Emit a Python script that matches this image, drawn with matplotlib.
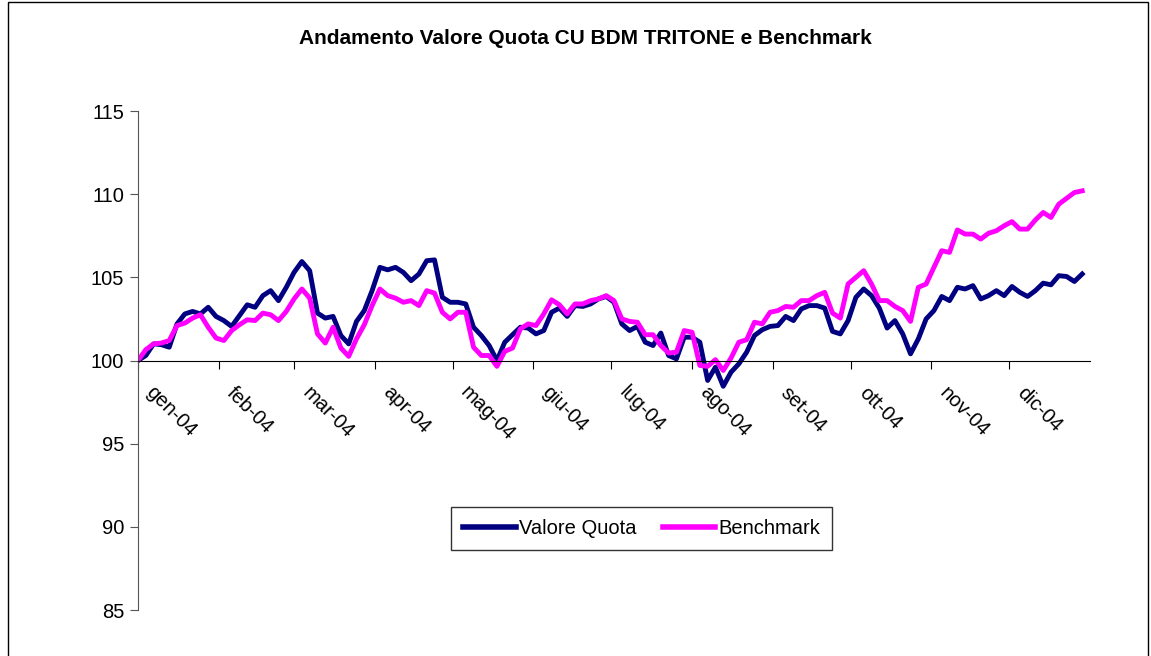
import numpy as np
import matplotlib.pyplot as plt
import matplotlib.transforms as mtransforms
from matplotlib.patches import Rectangle

plt.rcParams['font.family'] = ['Liberation Sans', 'DejaVu Sans']

# day of year (2004), one reading every 3 days
days = np.arange(0, 366, 3)

valore_quota = [
    100.0, 100.3, 101.0, 100.95, 100.8, 102.2, 102.8, 102.95, 102.8, 103.2,
    102.65, 102.4, 102.05, 102.7, 103.35, 103.2, 103.9, 104.2, 103.6, 104.4,
    105.3,
    105.95, 105.4, 102.85, 102.55, 102.65, 101.5, 101.0, 102.35, 103.0, 104.2,
    105.6, 105.45, 105.6, 105.3, 104.8, 105.2, 106.0, 106.05, 103.8, 103.5,
    103.5, 103.4, 102.0, 101.5, 100.9, 100.0, 101.1, 101.55, 102.0, 101.95,
    101.6, 101.8, 102.9, 103.15, 102.65, 103.3, 103.25, 103.4, 103.7, 103.85,
    103.5,
    102.2, 101.8, 102.05, 101.1, 100.9, 101.65, 100.3, 100.1, 101.4, 101.4,
    101.1, 98.8, 99.6, 98.45, 99.3, 99.8, 100.5, 101.5, 101.85, 102.05,
    102.1, 102.65, 102.4, 103.1, 103.3, 103.3, 103.15, 101.75, 101.6, 102.4,
    103.8, 104.3, 103.9, 103.15, 101.95, 102.4, 101.6, 100.4, 101.3, 102.5,
    103.0,
    103.85, 103.6, 104.4, 104.3, 104.5, 103.7, 103.9, 104.2, 103.9, 104.45,
    104.1, 103.85, 104.2, 104.65, 104.55, 105.1, 105.05, 104.75, 105.2,
]

benchmark = [
    100.0, 100.65, 101.0, 101.05, 101.2, 102.1, 102.25, 102.55, 102.75, 102.0,
    101.35, 101.2, 101.8, 102.15, 102.45, 102.4, 102.85, 102.75, 102.4, 102.95,
    103.7,
    104.3, 103.75, 101.6, 101.05, 102.0, 100.75, 100.25, 101.3, 102.15, 103.3,
    104.3, 103.9, 103.75, 103.5, 103.6, 103.3, 104.2, 104.05, 102.9, 102.5,
    102.9, 102.9, 100.8, 100.3, 100.3, 99.65, 100.55, 100.75, 101.9, 102.2,
    102.1, 102.8, 103.65, 103.35, 102.8, 103.4, 103.4, 103.6, 103.7, 103.9,
    103.6,
    102.5, 102.35, 102.3, 101.55, 101.55, 100.9, 100.45, 100.5, 101.8, 101.7,
    99.7, 99.65, 100.05, 99.4, 100.15, 101.1, 101.25, 102.3, 102.2, 102.9,
    103.0, 103.25, 103.2, 103.6, 103.6, 103.9, 104.1, 102.85, 102.55, 104.6,
    105.0, 105.4, 104.6, 103.6, 103.6, 103.25, 103.0, 102.35, 104.4, 104.6,
    105.6,
    106.6, 106.5, 107.85, 107.6, 107.6, 107.3, 107.65, 107.8, 108.1, 108.35,
    107.9, 107.9, 108.45, 108.9, 108.6, 109.4, 109.75, 110.1, 110.2,
]

month_starts = [0, 31, 60, 91, 121, 152, 182, 213, 244, 274, 305, 335]
month_labels = ["gen-04", "feb-04", "mar-04", "apr-04", "mag-04", "giu-04",
                "lug-04", "ago-04", "set-04", "ott-04", "nov-04", "dic-04"]

fig = plt.figure(figsize=(11.51, 6.56), dpi=100)
ax = fig.add_axes([138 / 1151, 1 - 610 / 656, (1090 - 138) / 1151, (610 - 111) / 656])

ax.plot(days, valore_quota, color="#000080", lw=3.5, label="Valore Quota",
        solid_joinstyle="round")
ax.plot(days, benchmark, color="#FF00FF", lw=3.5, label="Benchmark",
        solid_joinstyle="round")

ax.set_xlim(0, 366)
ax.set_ylim(85, 115)
ax.set_yticks(range(85, 116, 5))
ax.tick_params(axis="y", labelsize=14.5, length=6, color="#555555", pad=4)

for s in ["top", "right"]:
    ax.spines[s].set_visible(False)
ax.spines["left"].set_color("#555555")
ax.spines["bottom"].set_position(("data", 100))
ax.spines["bottom"].set_color("black")

ax.set_xticks(month_starts)
ax.set_xticklabels(month_labels, rotation=-45, ha="left", va="center",
                   rotation_mode="anchor", fontsize=14.5)
ax.tick_params(axis="x", length=6, pad=15)
shift = mtransforms.ScaledTranslation(8 / 72, 0, fig.dpi_scale_trans)
for lbl in ax.get_xticklabels():
    lbl.set_transform(lbl.get_transform() + shift)

leg = ax.legend(loc="center", bbox_to_anchor=(0.529, 0.164), ncol=2,
                fontsize=14.5, fancybox=False, frameon=True, edgecolor="black",
                handlelength=2.6, handletextpad=0.15, columnspacing=1.3,
                borderpad=0.6)
leg.get_frame().set_linewidth(1.0)
for line in leg.get_lines():
    line.set_linewidth(4)

fig.text(585 / 1151, 1 - 38 / 656, "Andamento Valore Quota CU BDM TRITONE e Benchmark",
         ha="center", va="center", fontsize=15, fontweight="bold")

fig.patches.append(Rectangle((8 / 1151, -0.01), 1140 / 1151, 1 - 2 / 656 + 0.01,
                             transform=fig.transFigure, fill=False,
                             edgecolor="black", lw=1.0))

fig.savefig("out.png", dpi=100)
